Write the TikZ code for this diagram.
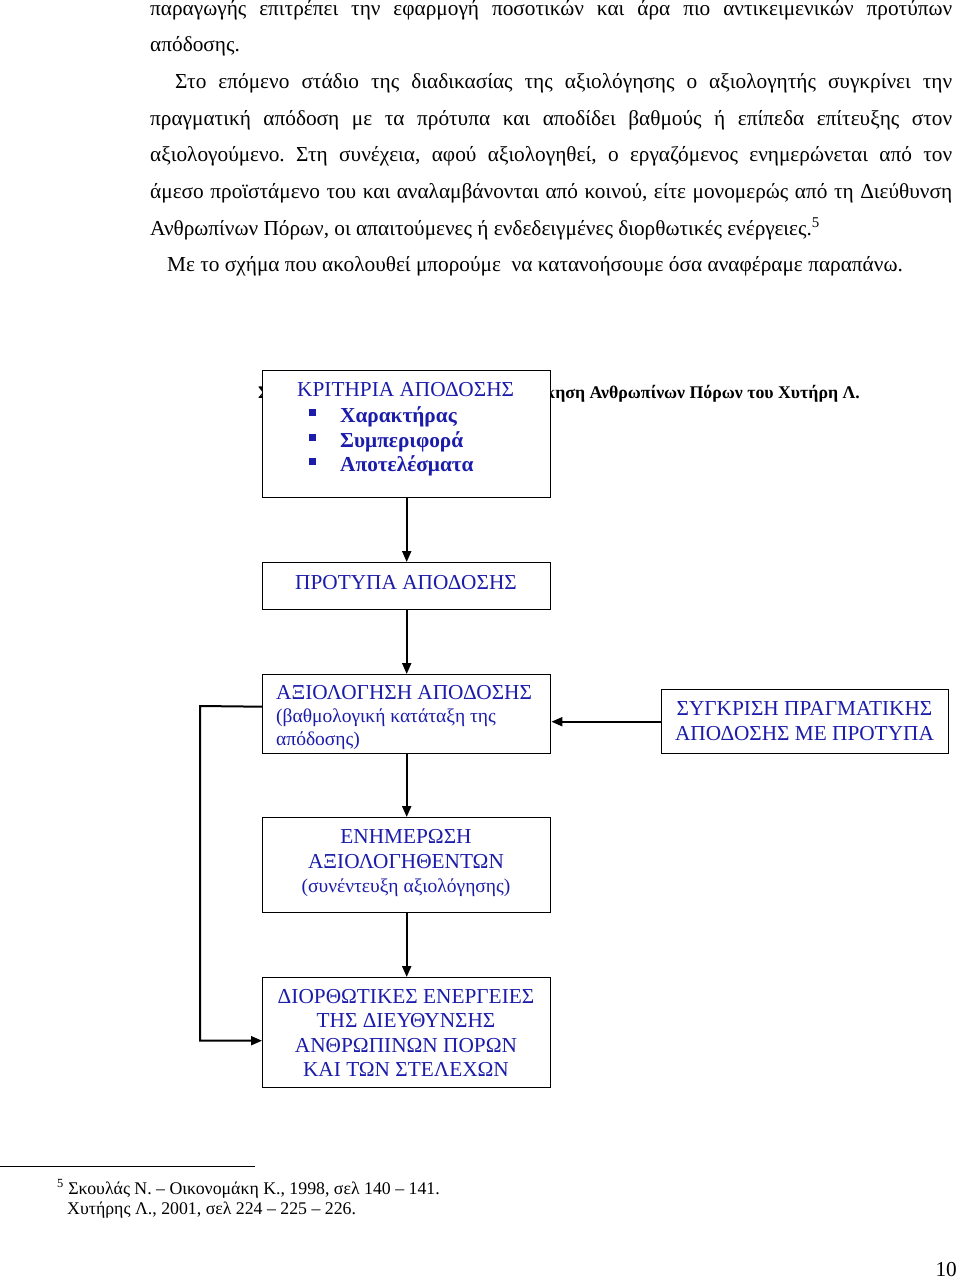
\documentclass[tikz,border=0pt]{standalone}
\usepackage{fontspec}
\setmainfont{Liberation Serif}
\usetikzlibrary{arrows.meta}
\definecolor{diagblue}{RGB}{28,28,170}
\newcommand{\bodyfont}{\fontsize{21.3pt}{25pt}\selectfont}
\newcommand{\boxfont}{\fontsize{21.3pt}{25pt}\selectfont}
\newcommand{\subfont}{\fontsize{19.5pt}{23pt}\selectfont}
\newcommand{\notefont}{\fontsize{17.8pt}{21pt}\selectfont}
\newcommand{\jline}[2]{\makebox[#1pt][s]{#2}}
\frenchspacing
\begin{document}
\begin{tikzpicture}[x=1pt,y=-1pt,
  txt/.style={anchor=base west, inner sep=0pt, font=\bodyfont},
  box/.style={draw, line width=1.4pt, fill=white, inner sep=0pt, minimum width=288pt, anchor=north west},
  btxt/.style={inner sep=0pt, font=\boxfont, text=diagblue},
  stxt/.style={inner sep=0pt, font=\subfont, text=diagblue},
  arr/.style={line width=2pt, -{Triangle[length=11pt,width=9pt]}}]
\useasboundingbox[fill=white] (0,0) rectangle (960,1280);
% body text
\node[txt] (l1) at (150,15) {\jline{802}{παραγωγής επιτρέπει την εφαρμογή ποσοτικών και άρα πιο αντικειμενικών προτύπων}};
\node[txt] (l2) at (150,51.6) {απόδοσης.};
\node[txt] (l3) at (175,88.3) {\jline{777}{Στο επόμενο στάδιο της διαδικασίας της αξιολόγησης ο αξιολογητής συγκρίνει την}};
\node[txt] (l4) at (150,125) {\jline{802}{πραγματική απόδοση με τα πρότυπα και αποδίδει βαθμούς ή επίπεδα επίτευξης στον}};
\node[txt] (l5) at (150,161.6) {\jline{802}{αξιολογούμενο. Στη συνέχεια, αφού αξιολογηθεί, ο εργαζόμενος ενημερώνεται από τον}};
\node[txt] (l6) at (150,198.3) {\jline{802}{άμεσο προϊστάμενο του και αναλαμβάνονται από κοινού, είτε μονομερώς από τη Διεύθυνση}};
\node[txt] (l7) at (150,235) {Ανθρωπίνων Πόρων, οι απαιτούμενες ή ενδεδειγμένες διορθωτικές ενέργειες.\textsuperscript{5}};
\node[txt] (l8) at (167,271.6) {Με το σχήμα που ακολουθεί μπορούμε\ \ να κατανοήσουμε όσα αναφέραμε παραπάνω.};
% caption partly hidden by the first box
\node[anchor=base east, inner sep=0pt, font=\fontsize{17.8pt}{21pt}\selectfont\bfseries] (cap) at (860,398) {κηση Ανθρωπίνων Πόρων του Χυτήρη Λ.};
\node[anchor=base west, inner sep=0pt, font=\fontsize{17.8pt}{21pt}\selectfont\bfseries] (capl) at (258,398) {Σ};
% boxes
\node[box, minimum height=127pt] (k) at (262,370) {};
\node[box, minimum height=47pt] (p) at (262,562) {};
\node[box, minimum height=79pt] (a) at (262,674) {};
\node[box, minimum width=287pt, minimum height=64pt] (s) at (661,689) {};
\node[box, minimum height=95pt] (e) at (262,817) {};
\node[box, minimum height=110pt] (d) at (262,977) {};
% box texts
\node[btxt, anchor=base west] (k1) at (297,396) {ΚΡΙΤΗΡΙΑ ΑΠΟΔΟΣΗΣ};
\foreach \yy/\nm/\tx in {422/k2/Χαρακτήρας, 447/k3/Συμπεριφορά, 471.5/k4/Αποτελέσματα}{
  \fill[diagblue] (309,\yy-13.5) rectangle (316,\yy-6.5);
  \node[btxt, anchor=base west, font=\boxfont\bfseries] (\nm) at (340,\yy) {\tx};
}
\node[btxt, anchor=base] (p1) at (406,589) {ΠΡΟΤΥΠΑ ΑΠΟΔΟΣΗΣ};
\node[btxt, anchor=base west] (a1) at (276,699) {ΑΞΙΟΛΟΓΗΣΗ ΑΠΟΔΟΣΗΣ};
\node[stxt, anchor=base west] (a2) at (276,722) {(βαθμολογική κατάταξη της};
\node[stxt, anchor=base west] (a3) at (276,745.5) {απόδοσης)};
\node[btxt, anchor=base] (s1) at (804.5,715) {ΣΥΓΚΡΙΣΗ ΠΡΑΓΜΑΤΙΚΗΣ};
\node[btxt, anchor=base] (s2) at (804.5,740) {ΑΠΟΔΟΣΗΣ ΜΕ ΠΡΟΤΥΠΑ};
\node[btxt, anchor=base] (e1) at (406,843) {ΕΝΗΜΕΡΩΣΗ};
\node[btxt, anchor=base] (e2) at (406,868) {ΑΞΙΟΛΟΓΗΘΕΝΤΩΝ};
\node[stxt, anchor=base] (e3) at (406,892) {(συνέντευξη αξιολόγησης)};
\node[btxt, anchor=base] (d1) at (406,1003) {ΔΙΟΡΘΩΤΙΚΕΣ ΕΝΕΡΓΕΙΕΣ};
\node[btxt, anchor=base] (d2) at (406,1027.5) {ΤΗΣ ΔΙΕΥΘΥΝΣΗΣ};
\node[btxt, anchor=base] (d3) at (406,1052) {ΑΝΘΡΩΠΙΝΩΝ ΠΟΡΩΝ};
\node[btxt, anchor=base] (d4) at (406,1076.5) {ΚΑΙ ΤΩΝ ΣΤΕΛΕΧΩΝ};
% connectors
\draw[arr] (k.south) -- (p.north);
\draw[arr] (p.south) -- (a.north);
\draw[arr] (a.south) -- (e.north);
\draw[arr] (e.south) -- (d.north);
\draw[arr] (s.west) -- (s.west -| a.east);
\coordinate (fb) at (200,706);
\draw[arr] ([yshift=7.5pt]a.west) -- (fb) |- ([yshift=-8pt]d.west);
% footnote
\draw[line width=0.9pt] (0,1166) -- (255,1166);
\node[anchor=base west, inner sep=0pt, font=\notefont] (f1) at (57,1194) {\textsuperscript{5} Σκουλάς Ν. – Οικονομάκη Κ., 1998, σελ 140 – 141.};
\node[anchor=base west, inner sep=0pt, font=\notefont] (f2) at (67,1214) {Χυτήρης Λ., 2001, σελ 224 – 225 – 226.};
\node[anchor=base east, inner sep=0pt, font=\bodyfont] (pg) at (957,1276) {10};
\end{tikzpicture}
\end{document}
